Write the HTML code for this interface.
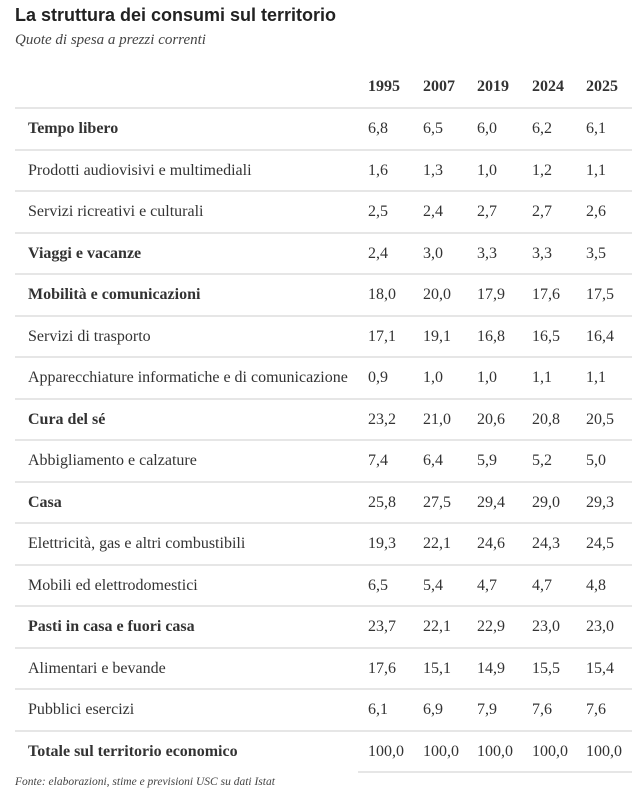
<!DOCTYPE html>
<html><head><meta charset="utf-8"><style>
body{margin:0;width:640px;height:807px;background:#fff;position:relative;font-family:"Liberation Serif",serif;color:#333;overflow:hidden}
.t{position:absolute;left:15px;top:5px;font:bold 18px "Liberation Sans",sans-serif;color:#222}
.s{position:absolute;left:15px;top:32px;font-style:italic;font-size:15px;color:#444}
.h{position:absolute;top:78px;font-weight:bold;font-size:16px}
.r{position:absolute;left:15px;width:617px;height:41.5px;border-top:2px solid #e6e6e6;box-sizing:border-box}
.r span{position:absolute;top:11px;font-size:16px}
.r .l{left:13px}
.b span{font-weight:bold}
.f{position:absolute;left:15px;top:776px;font-style:italic;font-size:11.5px;color:#444}
</style></head><body>
<div class="t">La struttura dei consumi sul territorio</div>
<div class="s">Quote di spesa a prezzi correnti</div>
<div class="h" style="left:368px">1995</div>
<div class="h" style="left:423px">2007</div>
<div class="h" style="left:477px">2019</div>
<div class="h" style="left:532px">2024</div>
<div class="h" style="left:586px">2025</div>
<div id="tb"></div>
<div style="position:absolute;left:358px;top:771px;width:274px;border-top:2px solid #e6e6e6"></div>
<div class="f">Fonte: elaborazioni, stime e previsioni USC su dati Istat</div>
<script>
var d=[["Tempo libero",1,"6,8","6,5","6,0","6,2","6,1"],["Prodotti audiovisivi e multimediali",0,"1,6","1,3","1,0","1,2","1,1"],["Servizi ricreativi e culturali",0,"2,5","2,4","2,7","2,7","2,6"],["Viaggi e vacanze",1,"2,4","3,0","3,3","3,3","3,5"],["Mobilità e comunicazioni",1,"18,0","20,0","17,9","17,6","17,5"],["Servizi di trasporto",0,"17,1","19,1","16,8","16,5","16,4"],["Apparecchiature informatiche e di comunicazione",0,"0,9","1,0","1,0","1,1","1,1"],["Cura del sé",1,"23,2","21,0","20,6","20,8","20,5"],["Abbigliamento e calzature",0,"7,4","6,4","5,9","5,2","5,0"],["Casa",1,"25,8","27,5","29,4","29,0","29,3"],["Elettricità, gas e altri combustibili",0,"19,3","22,1","24,6","24,3","24,5"],["Mobili ed elettrodomestici",0,"6,5","5,4","4,7","4,7","4,8"],["Pasti in casa e fuori casa",1,"23,7","22,1","22,9","23,0","23,0"],["Alimentari e bevande",0,"17,6","15,1","14,9","15,5","15,4"],["Pubblici esercizi",0,"6,1","6,9","7,9","7,6","7,6"],["Totale sul territorio economico",1,"100,0","100,0","100,0","100,0","100,0"]];
var x=[353,408,462,517,571],h="";
d.forEach(function(r,i){h+='<div class="r'+(r[1]?' b':'')+'" style="top:'+(107+i*41.5)+'px"><span class="l">'+r[0]+'</span>';for(var j=0;j<5;j++)h+='<span style="left:'+x[j]+'px;font-weight:normal">'+r[j+2]+'</span>';h+='</div>';});
document.getElementById("tb").innerHTML=h;
</script>
</body></html>
